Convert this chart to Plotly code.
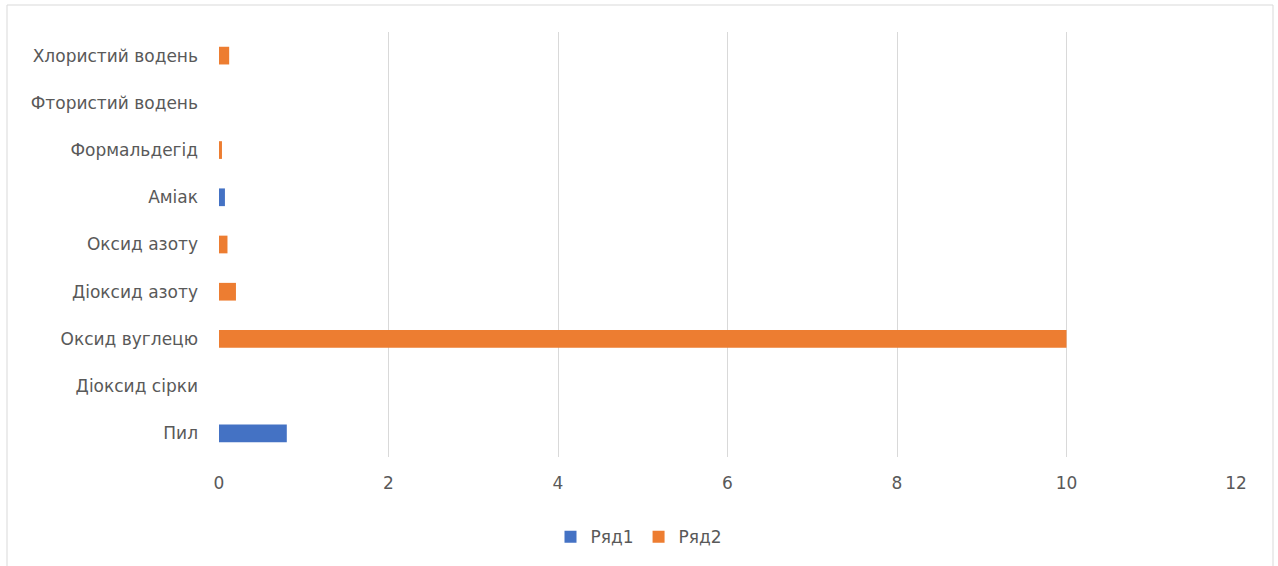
import plotly.graph_objects as go

categories = ["Пил", "Діоксид сірки", "Оксид вуглецю", "Діоксид азоту", "Оксид азоту",
              "Аміак", "Формальдегід", "Фтористий водень", "Хлористий водень"]
series1 = [0.8, None, None, None, None, 0.07, None, None, None]
series2 = [None, None, 10.0, 0.2, 0.1, None, 0.035, None, 0.12]
x_ticks = [0, 2, 4, 6, 8, 10, 12]

W, H = 1278, 566
L, R, T, B = 219, 42, 32, 109
pw, ph = W - L - R, H - T - B

font_family = "DejaVu Sans, sans-serif"
txt = "#595959"

fig = go.Figure()
fig.add_trace(go.Bar(y=categories, x=series1, orientation="h", name="Ряд1",
                     marker=dict(color="#4472C4", line=dict(width=0)), width=0.375))
fig.add_trace(go.Bar(y=categories, x=series2, orientation="h", name="Ряд2",
                     marker=dict(color="#ED7D31", line=dict(width=0)), width=0.375))

# outer chart border (pixel positions converted to paper coordinates)
fig.add_shape(type="rect", xref="paper", yref="paper",
              x0=(7 - L) / pw, x1=(1273 - L) / pw,
              y0=(H - B - 575) / ph, y1=(H - B - 5) / ph,
              line=dict(color="#D9D9D9", width=1), layer="below")

fig.update_layout(
    width=W, height=H,
    margin=dict(l=L, r=R, t=T, b=B),
    barmode="overlay",
    plot_bgcolor="white", paper_bgcolor="white",
    font=dict(family=font_family, size=17, color=txt),
    xaxis=dict(range=[0, 12], tickvals=x_ticks, showgrid=True, gridcolor="#D9D9D9",
               gridwidth=1, zeroline=False, showline=False, ticks="",
               ticklabelstandoff=14, tickfont=dict(size=17, color=txt)),
    yaxis=dict(categoryorder="array", categoryarray=categories, showgrid=False,
               zeroline=False, showline=False, ticks="", ticklabelstandoff=20,
               range=[-0.5, 8.5], tickfont=dict(size=17, color=txt)),
    legend=dict(orientation="h", xref="container", yref="container", x=0.5, y=0.051,
                xanchor="center", yanchor="middle", font=dict(size=17, color=txt),
                itemwidth=30, tracegroupgap=0),
    showlegend=True,
)

fig.write_html("out.html")
